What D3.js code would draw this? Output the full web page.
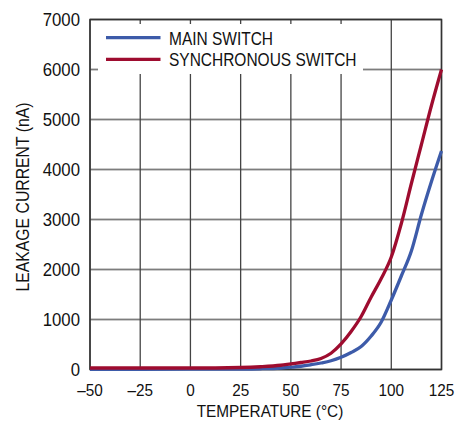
<!DOCTYPE html>
<html>
<head>
<meta charset="utf-8">
<script src="https://cdn.jsdelivr.net/npm/d3@7"></script>
<style>
  body { margin: 0; background: #fff; }
  text { font-family: "Liberation Sans", Arial, sans-serif; fill: #111; }
</style>
</head>
<body>
<div id="canvas"></div>
<script>
"use strict"

/* chart values */
let temps = [-50, -25, 0, 25, 35, 45, 50, 55, 60, 65, 70, 75, 80, 85, 90, 95, 100, 105, 110, 115, 120, 125];
let mainSwitch = [5, 5, 8, 10, 15, 30, 46, 65, 95, 130, 175, 245, 340, 460, 670, 950, 1390, 1870, 2370, 3100, 3760, 4370];
let syncSwitch = [30, 30, 30, 40, 55, 85, 113, 140, 170, 220, 325, 511, 760, 1060, 1450, 1820, 2250, 2920, 3720, 4500, 5280, 6000];
let xTicks = [-50, -25, 0, 25, 50, 75, 100, 125];
let yTicks = [0, 1000, 2000, 3000, 4000, 5000, 6000, 7000];
let seriesNames = ["MAIN SWITCH", "SYNCHRONOUS SWITCH"];
let seriesColors = ["#3d5ba9", "#9e0c2f"];

/* drawing */
let svgWidth = 472;
let svgHeight = 421;
let plotLeft = 90, plotRight = 441.5, plotTop = 19.5, plotBottom = 369.5;

let svg = d3.select("#canvas")
    .append("svg")
    .attr("width", svgWidth)
    .attr("height", svgHeight);

let x = d3.scaleLinear().domain([-50, 125]).range([plotLeft, plotRight]);
let y = d3.scaleLinear().domain([0, 7000]).range([plotBottom, plotTop]);

/* squeeze text horizontally, the original uses a condensed face */
function condense(sel, k) {
    sel.each(function () {
        let w = this.getComputedTextLength();
        d3.select(this)
            .attr("textLength", w * k)
            .attr("lengthAdjust", "spacingAndGlyphs");
    });
}

/* grid: horizontal rules as thin bars */
svg.append("g")
    .selectAll("rect")
    .data(yTicks)
    .join("rect")
    .attr("x", plotLeft)
    .attr("y", d => y(d) - 0.9)
    .attr("width", plotRight - plotLeft)
    .attr("height", 1.8)
    .attr("fill", "#7d7d7d");

svg.append("g")
    .selectAll("line")
    .data(xTicks)
    .join("line")
    .attr("x1", d => x(d)).attr("x2", d => x(d))
    .attr("y1", plotTop).attr("y2", plotBottom)
    .attr("stroke", "#444")
    .attr("stroke-width", 1.3);

/* legend box hides the grid behind it */
svg.append("rect")
    .attr("x", 98).attr("y", 24)
    .attr("width", 265).attr("height", 50)
    .attr("fill", "#fff");

/* frame */
svg.append("rect")
    .attr("x", plotLeft).attr("y", plotTop)
    .attr("width", plotRight - plotLeft).attr("height", plotBottom - plotTop)
    .attr("fill", "none")
    .attr("stroke", "#333")
    .attr("stroke-width", 1.5);

/* curves */
let series = [mainSwitch, syncSwitch];
let line = d3.line()
    .x((d, i) => x(temps[i]))
    .y(d => y(d))
    .curve(d3.curveMonotoneX);

series.forEach(function (s, k) {
    svg.append("path")
        .attr("d", line(s))
        .attr("fill", "none")
        .attr("stroke", seriesColors[k])
        .attr("stroke-width", 3.3);
});

/* tick labels */
svg.append("g")
    .selectAll("text")
    .data(xTicks)
    .join("text")
    .attr("x", d => x(d))
    .attr("y", 396)
    .attr("text-anchor", "middle")
    .attr("font-size", 17)
    .text(d => d < 0 ? "\u2013" + Math.abs(d) : d)
    .call(condense, 0.9);

svg.append("g")
    .selectAll("text")
    .data(yTicks)
    .join("text")
    .attr("x", 80)
    .attr("y", d => y(d) + 6.5)
    .attr("text-anchor", "end")
    .attr("font-size", 18)
    .text(d => d)
    .call(condense, 0.93);

/* axis titles */
svg.append("text")
    .attr("x", 270)
    .attr("y", 416.5)
    .attr("text-anchor", "middle")
    .attr("font-size", 16)
    .text("TEMPERATURE (\u00B0C)")
    .call(condense, 0.96);

svg.append("text")
    .attr("transform", "translate(28.5,197) rotate(-90)")
    .attr("text-anchor", "middle")
    .attr("font-size", 19)
    .text("LEAKAGE CURRENT (nA)")
    .call(condense, 0.83);

/* legend */
seriesNames.forEach(function (name, k) {
    let ly = 37.7 + k * 21.6;
    svg.append("line")
        .attr("x1", 106).attr("x2", 160.5)
        .attr("y1", ly).attr("y2", ly)
        .attr("stroke", seriesColors[k])
        .attr("stroke-width", 3.3);
    svg.append("text")
        .attr("x", 169)
        .attr("y", ly + 7)
        .attr("font-size", 18)
        .text(name)
        .call(condense, 0.86);
});
</script>
</body>
</html>
